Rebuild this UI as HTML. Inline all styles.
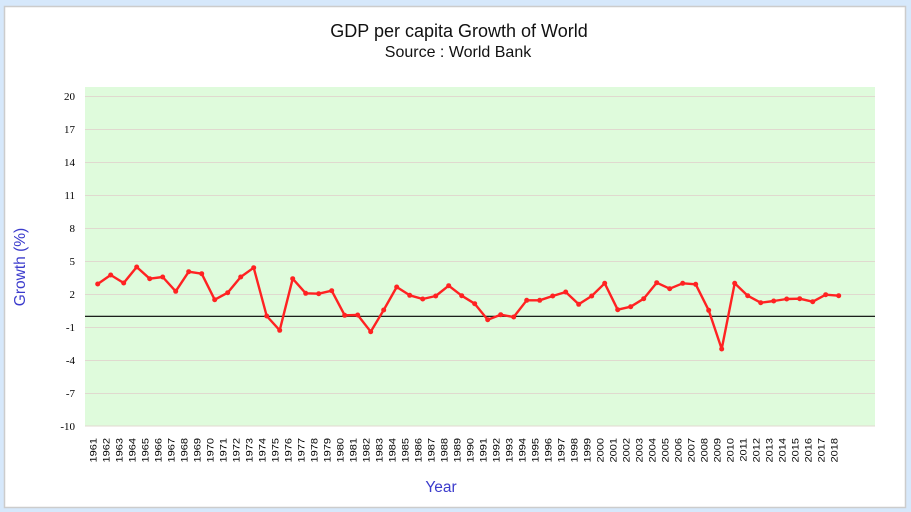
<!DOCTYPE html>
<html><head><meta charset="utf-8"><style>
html,body{margin:0;padding:0;background:#d6e8fb;}
svg{display:block;}
.sans{font-family:"Liberation Sans",Arial,sans-serif;}
.serif{font-family:"Liberation Serif","Times New Roman",serif;}
</style></head><body>
<svg width="911" height="512" viewBox="0 0 911 512" xmlns="http://www.w3.org/2000/svg">
<rect x="0" y="0" width="911" height="512" fill="#d6e8fb"/>
<rect x="4.5" y="6.5" width="901" height="501" fill="#ffffff" stroke="#cccccc" stroke-width="1.5"/>
<text class="sans" x="459" y="37" font-size="18" text-anchor="middle" fill="#111">GDP per capita Growth of World</text>
<text class="sans" x="458" y="57" font-size="16" text-anchor="middle" fill="#111">Source : World Bank</text>
<rect x="85" y="87" width="790" height="339" fill="#dffbdc"/>
<g stroke="#e0d9cf" stroke-width="1">
<line x1="85" x2="875" y1="96.5" y2="96.5"/>
<line x1="85" x2="875" y1="129.5" y2="129.5"/>
<line x1="85" x2="875" y1="162.5" y2="162.5"/>
<line x1="85" x2="875" y1="195.5" y2="195.5"/>
<line x1="85" x2="875" y1="228.5" y2="228.5"/>
<line x1="85" x2="875" y1="261.5" y2="261.5"/>
<line x1="85" x2="875" y1="294.5" y2="294.5"/>
<line x1="85" x2="875" y1="327.5" y2="327.5"/>
<line x1="85" x2="875" y1="360.5" y2="360.5"/>
<line x1="85" x2="875" y1="393.5" y2="393.5"/>
<line x1="85" x2="875" y1="426" y2="426"/>
</g>
<line x1="85" x2="875" y1="316.3" y2="316.3" stroke="#000" stroke-width="1.2"/>
<g class="serif" font-size="11" text-anchor="end" fill="#000">
<text x="75" y="100">20</text>
<text x="75" y="133">17</text>
<text x="75" y="166">14</text>
<text x="75" y="199">11</text>
<text x="75" y="232">8</text>
<text x="75" y="265">5</text>
<text x="75" y="298">2</text>
<text x="75" y="331">-1</text>
<text x="75" y="364">-4</text>
<text x="75" y="397">-7</text>
<text x="75" y="430">-10</text>
</g>
<text class="sans" transform="translate(25,267) rotate(-90)" font-size="15.5" text-anchor="middle" fill="#3b3bcc">Growth (%)</text>
<text class="sans" x="441" y="492" font-size="15.5" text-anchor="middle" fill="#3b3bcc">Year</text>
<polyline fill="none" stroke="#ff2222" stroke-width="2.4" stroke-linejoin="round" points="97.7,284 110.7,275 123.7,283 136.7,267 149.7,278.7 162.7,277 175.7,291.3 188.7,271.7 201.7,273.7 214.7,299.7 227.7,292.7 240.7,277 253.7,267.7 266.7,316 279.7,330.3 292.7,278.7 305.7,293.3 318.7,293.7 331.7,290.7 344.7,315.3 357.7,315 370.7,331.7 383.7,310 396.7,287 409.7,295.3 422.7,299 435.7,296 448.7,285.7 461.7,295.7 474.7,303.7 487.7,319.7 500.7,314.7 513.7,317 526.7,300.3 539.7,300.3 552.7,296 565.7,292 578.7,304.3 591.7,296 604.7,283.3 617.7,309.7 630.7,306.7 643.7,298.7 656.7,282.7 669.7,288.7 682.7,283.3 695.7,284.3 708.7,310.3 721.7,349 734.7,283.3 747.7,295.7 760.7,302.7 773.7,301 786.7,299 799.7,298.7 812.7,301.7 825.7,294.7 838.7,295.7"/>
<g fill="#ff2222">
<circle cx="97.7" cy="284" r="2.5"/><circle cx="110.7" cy="275" r="2.5"/><circle cx="123.7" cy="283" r="2.5"/><circle cx="136.7" cy="267" r="2.5"/><circle cx="149.7" cy="278.7" r="2.5"/><circle cx="162.7" cy="277" r="2.5"/><circle cx="175.7" cy="291.3" r="2.5"/><circle cx="188.7" cy="271.7" r="2.5"/><circle cx="201.7" cy="273.7" r="2.5"/><circle cx="214.7" cy="299.7" r="2.5"/><circle cx="227.7" cy="292.7" r="2.5"/><circle cx="240.7" cy="277" r="2.5"/><circle cx="253.7" cy="267.7" r="2.5"/><circle cx="266.7" cy="316" r="2.5"/><circle cx="279.7" cy="330.3" r="2.5"/><circle cx="292.7" cy="278.7" r="2.5"/><circle cx="305.7" cy="293.3" r="2.5"/><circle cx="318.7" cy="293.7" r="2.5"/><circle cx="331.7" cy="290.7" r="2.5"/><circle cx="344.7" cy="315.3" r="2.5"/><circle cx="357.7" cy="315" r="2.5"/><circle cx="370.7" cy="331.7" r="2.5"/><circle cx="383.7" cy="310" r="2.5"/><circle cx="396.7" cy="287" r="2.5"/><circle cx="409.7" cy="295.3" r="2.5"/><circle cx="422.7" cy="299" r="2.5"/><circle cx="435.7" cy="296" r="2.5"/><circle cx="448.7" cy="285.7" r="2.5"/><circle cx="461.7" cy="295.7" r="2.5"/><circle cx="474.7" cy="303.7" r="2.5"/><circle cx="487.7" cy="319.7" r="2.5"/><circle cx="500.7" cy="314.7" r="2.5"/><circle cx="513.7" cy="317" r="2.5"/><circle cx="526.7" cy="300.3" r="2.5"/><circle cx="539.7" cy="300.3" r="2.5"/><circle cx="552.7" cy="296" r="2.5"/><circle cx="565.7" cy="292" r="2.5"/><circle cx="578.7" cy="304.3" r="2.5"/><circle cx="591.7" cy="296" r="2.5"/><circle cx="604.7" cy="283.3" r="2.5"/><circle cx="617.7" cy="309.7" r="2.5"/><circle cx="630.7" cy="306.7" r="2.5"/><circle cx="643.7" cy="298.7" r="2.5"/><circle cx="656.7" cy="282.7" r="2.5"/><circle cx="669.7" cy="288.7" r="2.5"/><circle cx="682.7" cy="283.3" r="2.5"/><circle cx="695.7" cy="284.3" r="2.5"/><circle cx="708.7" cy="310.3" r="2.5"/><circle cx="721.7" cy="349" r="2.5"/><circle cx="734.7" cy="283.3" r="2.5"/><circle cx="747.7" cy="295.7" r="2.5"/><circle cx="760.7" cy="302.7" r="2.5"/><circle cx="773.7" cy="301" r="2.5"/><circle cx="786.7" cy="299" r="2.5"/><circle cx="799.7" cy="298.7" r="2.5"/><circle cx="812.7" cy="301.7" r="2.5"/><circle cx="825.7" cy="294.7" r="2.5"/><circle cx="838.7" cy="295.7" r="2.5"/>
</g>
<g class="sans" font-size="11" text-anchor="end" fill="#000">
<text transform="translate(96.5,438) rotate(-90) scale(1,0.8)">1961</text>
<text transform="translate(109.5,438) rotate(-90) scale(1,0.8)">1962</text>
<text transform="translate(122.5,438) rotate(-90) scale(1,0.8)">1963</text>
<text transform="translate(135.5,438) rotate(-90) scale(1,0.8)">1964</text>
<text transform="translate(148.5,438) rotate(-90) scale(1,0.8)">1965</text>
<text transform="translate(161.5,438) rotate(-90) scale(1,0.8)">1966</text>
<text transform="translate(174.5,438) rotate(-90) scale(1,0.8)">1967</text>
<text transform="translate(187.5,438) rotate(-90) scale(1,0.8)">1968</text>
<text transform="translate(200.5,438) rotate(-90) scale(1,0.8)">1969</text>
<text transform="translate(213.5,438) rotate(-90) scale(1,0.8)">1970</text>
<text transform="translate(226.5,438) rotate(-90) scale(1,0.8)">1971</text>
<text transform="translate(239.5,438) rotate(-90) scale(1,0.8)">1972</text>
<text transform="translate(252.5,438) rotate(-90) scale(1,0.8)">1973</text>
<text transform="translate(265.5,438) rotate(-90) scale(1,0.8)">1974</text>
<text transform="translate(278.5,438) rotate(-90) scale(1,0.8)">1975</text>
<text transform="translate(291.5,438) rotate(-90) scale(1,0.8)">1976</text>
<text transform="translate(304.5,438) rotate(-90) scale(1,0.8)">1977</text>
<text transform="translate(317.5,438) rotate(-90) scale(1,0.8)">1978</text>
<text transform="translate(330.5,438) rotate(-90) scale(1,0.8)">1979</text>
<text transform="translate(343.5,438) rotate(-90) scale(1,0.8)">1980</text>
<text transform="translate(356.5,438) rotate(-90) scale(1,0.8)">1981</text>
<text transform="translate(369.5,438) rotate(-90) scale(1,0.8)">1982</text>
<text transform="translate(382.5,438) rotate(-90) scale(1,0.8)">1983</text>
<text transform="translate(395.5,438) rotate(-90) scale(1,0.8)">1984</text>
<text transform="translate(408.5,438) rotate(-90) scale(1,0.8)">1985</text>
<text transform="translate(421.5,438) rotate(-90) scale(1,0.8)">1986</text>
<text transform="translate(434.5,438) rotate(-90) scale(1,0.8)">1987</text>
<text transform="translate(447.5,438) rotate(-90) scale(1,0.8)">1988</text>
<text transform="translate(460.5,438) rotate(-90) scale(1,0.8)">1989</text>
<text transform="translate(473.5,438) rotate(-90) scale(1,0.8)">1990</text>
<text transform="translate(486.5,438) rotate(-90) scale(1,0.8)">1991</text>
<text transform="translate(499.5,438) rotate(-90) scale(1,0.8)">1992</text>
<text transform="translate(512.5,438) rotate(-90) scale(1,0.8)">1993</text>
<text transform="translate(525.5,438) rotate(-90) scale(1,0.8)">1994</text>
<text transform="translate(538.5,438) rotate(-90) scale(1,0.8)">1995</text>
<text transform="translate(551.5,438) rotate(-90) scale(1,0.8)">1996</text>
<text transform="translate(564.5,438) rotate(-90) scale(1,0.8)">1997</text>
<text transform="translate(577.5,438) rotate(-90) scale(1,0.8)">1998</text>
<text transform="translate(590.5,438) rotate(-90) scale(1,0.8)">1999</text>
<text transform="translate(603.5,438) rotate(-90) scale(1,0.8)">2000</text>
<text transform="translate(616.5,438) rotate(-90) scale(1,0.8)">2001</text>
<text transform="translate(629.5,438) rotate(-90) scale(1,0.8)">2002</text>
<text transform="translate(642.5,438) rotate(-90) scale(1,0.8)">2003</text>
<text transform="translate(655.5,438) rotate(-90) scale(1,0.8)">2004</text>
<text transform="translate(668.5,438) rotate(-90) scale(1,0.8)">2005</text>
<text transform="translate(681.5,438) rotate(-90) scale(1,0.8)">2006</text>
<text transform="translate(694.5,438) rotate(-90) scale(1,0.8)">2007</text>
<text transform="translate(707.5,438) rotate(-90) scale(1,0.8)">2008</text>
<text transform="translate(720.5,438) rotate(-90) scale(1,0.8)">2009</text>
<text transform="translate(733.5,438) rotate(-90) scale(1,0.8)">2010</text>
<text transform="translate(746.5,438) rotate(-90) scale(1,0.8)">2011</text>
<text transform="translate(759.5,438) rotate(-90) scale(1,0.8)">2012</text>
<text transform="translate(772.5,438) rotate(-90) scale(1,0.8)">2013</text>
<text transform="translate(785.5,438) rotate(-90) scale(1,0.8)">2014</text>
<text transform="translate(798.5,438) rotate(-90) scale(1,0.8)">2015</text>
<text transform="translate(811.5,438) rotate(-90) scale(1,0.8)">2016</text>
<text transform="translate(824.5,438) rotate(-90) scale(1,0.8)">2017</text>
<text transform="translate(837.5,438) rotate(-90) scale(1,0.8)">2018</text>
</g>
</svg>
</body></html>
